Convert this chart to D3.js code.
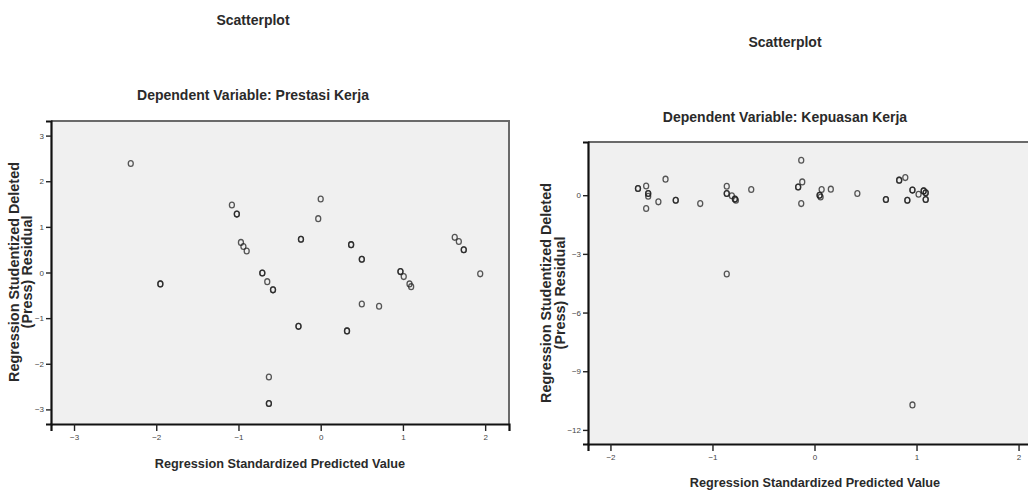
<!DOCTYPE html>
<html>
<head>
<meta charset="utf-8">
<script src="https://cdn.jsdelivr.net/npm/d3@7"></script>
<style>
  body { margin: 0; background: #fff; }
  svg { display: block; font-family: "Liberation Sans", Arial, sans-serif; }
  .tick text { fill: #444; font-size: 8px; }
  .title { font-weight: bold; font-size: 14px; fill: #2a2a2a; }
  .axlabel { font-weight: bold; font-size: 12.7px; fill: #2a2a2a; }
  .ylabel { font-weight: bold; font-size: 14.4px; fill: #2a2a2a; }
</style>
</head>
<body>
<svg id="chart" width="1028" height="490"></svg>
<script>
// chart 1: Prestasi Kerja  (predicted, residual) - doubled entries are overlapping cases
var prestasiX = [-2.31, -1.95, -1.95, -1.08, -1.02, -1.02, -0.97, -0.94, -0.90,
  0.00, -0.03, -0.24, -0.24, 0.37, 0.37, 0.50, 0.50, -0.71, -0.71, -0.65, -0.58, -0.58,
  1.63, 1.68, 1.74, 1.74, 1.94, 0.97, 0.97, 1.01, 1.08, 1.10, 0.50, 0.71,
  -0.27, -0.27, 0.32, 0.32, -0.63, -0.63, -0.63];
var prestasiY = [2.39, -0.25, -0.25, 1.48, 1.28, 1.28, 0.66, 0.57, 0.47,
  1.61, 1.18, 0.73, 0.73, 0.61, 0.61, 0.29, 0.29, -0.01, -0.01, -0.20, -0.38, -0.38,
  0.77, 0.68, 0.50, 0.50, -0.03, 0.02, 0.02, -0.09, -0.25, -0.31, -0.69, -0.74,
  -1.18, -1.18, -1.28, -1.28, -2.29, -2.87, -2.87];

// chart 2: Kepuasan Kerja
var kepuasanX = [-1.73, -1.73, -1.65, -1.63, -1.63, -1.63, -1.65, -1.53, -1.46, -1.36, -1.36,
  -1.12, -0.86, -0.86, -0.86, -0.81, -0.78, -0.78, -0.77, -0.62, -0.86,
  -0.13, -0.12, -0.16, -0.16, -0.13, 0.07, 0.05, 0.05, 0.06, 0.16, 0.42, 0.70, 0.70,
  0.83, 0.83, 0.89, 0.91, 0.91, 0.96, 0.96, 1.02, 1.07, 1.07, 1.09, 1.09, 1.09, 1.09, 0.96];
var kepuasanY = [0.34, 0.34, 0.47, 0.09, 0.09, -0.05, -0.68, -0.34, 0.82, -0.26, -0.26,
  -0.43, 0.46, 0.09, 0.09, -0.03, -0.20, -0.20, -0.26, 0.29, -4.03,
  1.79, 0.68, 0.42, 0.42, -0.43, 0.29, 0.00, 0.00, -0.09, 0.31, 0.09, -0.22, -0.22,
  0.77, 0.77, 0.90, -0.26, -0.26, 0.26, 0.26, 0.05, 0.22, 0.22, 0.12, 0.12, -0.22, -0.22, -10.72];

var xTicksPrestasi = [-3, -2, -1, 0, 1, 2];
var xTicksKepuasan = [-2, -1, 0, 1, 2];
var yTicksPrestasi = [3, 2, 1, 0, -1, -2, -3];
var yTicksKepuasan = [0, -3, -6, -9, -12];

var svg = d3.select("#chart");

function drawScatter(cfg) {
  var g = svg.append("g");
  var x = d3.scaleLinear().domain(cfg.xDomain).range([cfg.left, cfg.right]);
  var y = d3.scaleLinear().domain(cfg.yDomain).range([cfg.bottom, cfg.top]);

  // panel background
  g.append("rect")
    .attr("x", cfg.left).attr("y", cfg.top)
    .attr("width", cfg.right - cfg.left).attr("height", cfg.bottom - cfg.top)
    .attr("fill", "#f0f0f0");

  // top + right frame (grey)
  g.append("path")
    .attr("d", "M" + cfg.left + "," + cfg.top + "H" + cfg.right + "V" + cfg.bottom)
    .attr("fill", "none").attr("stroke", "#6a6a6a").attr("stroke-width", 2);

  // points
  g.append("g").selectAll("ellipse")
    .data(cfg.xs.map(function(d, i) { return [d, cfg.ys[i]]; }))
    .enter().append("ellipse")
    .attr("cx", function(d) { return x(d[0]); })
    .attr("cy", function(d) { return y(d[1]); })
    .attr("rx", 2.5).attr("ry", 2.9)
    .attr("fill", "none")
    .attr("stroke", "#222")
    .attr("stroke-opacity", 0.75)
    .attr("stroke-width", 1.3);

  // axes
  var xAxis = g.append("g")
    .attr("transform", "translate(0," + cfg.bottom + ")")
    .call(d3.axisBottom(x).tickValues(cfg.xTicks).tickSize(7).tickPadding(3).tickFormat(d3.format("d")));
  xAxis.select(".domain").attr("stroke", "#111").attr("stroke-width", 2.2);
  xAxis.selectAll(".tick line").attr("stroke", "#222").attr("stroke-width", 1.4);

  var yAxis = g.append("g")
    .attr("transform", "translate(" + cfg.left + ",0)")
    .call(d3.axisLeft(y).tickValues(cfg.yTicks).tickSize(5).tickPadding(2).tickFormat(d3.format("d")));
  yAxis.select(".domain").attr("stroke", "#111").attr("stroke-width", 2.2);
  yAxis.selectAll(".tick line").attr("stroke", "#222").attr("stroke-width", 1.4);

  // titles
  svg.append("text").attr("class", "title")
    .attr("x", cfg.titleX).attr("y", cfg.titleY)
    .attr("text-anchor", "middle").text("Scatterplot");
  svg.append("text").attr("class", "title")
    .attr("x", cfg.titleX).attr("y", cfg.subtitleY)
    .attr("text-anchor", "middle").text(cfg.subtitle);

  svg.append("text").attr("class", "axlabel")
    .attr("x", cfg.xLabelX).attr("y", cfg.xLabelY)
    .attr("text-anchor", "middle").text("Regression Standardized Predicted Value");

  var yl = svg.append("text").attr("class", "ylabel")
    .attr("text-anchor", "middle")
    .attr("transform", "translate(" + cfg.yLabelX + "," + cfg.yLabelY + ") rotate(-90)");
  yl.append("tspan").attr("x", 0).attr("dy", 0).text("Regression Studentized Deleted");
  yl.append("tspan").attr("x", 0).attr("dy", 13.5).text("(Press) Residual");
}

drawScatter({
  xs: prestasiX, ys: prestasiY,
  xDomain: [-3.28, 2.29], yDomain: [-3.32, 3.32],
  left: 51, right: 509, top: 121, bottom: 424,
  xTicks: xTicksPrestasi, yTicks: yTicksPrestasi,
  titleX: 253, titleY: 25, subtitleY: 100, subtitle: "Dependent Variable: Prestasi Kerja",
  xLabelX: 280, xLabelY: 468, yLabelX: 18.5, yLabelY: 272
});

drawScatter({
  xs: kepuasanX, ys: kepuasanY,
  xDomain: [-2.22, 2.22], yDomain: [-12.72, 2.72],
  left: 588, right: 1041, top: 142, bottom: 444,
  xTicks: xTicksKepuasan, yTicks: yTicksKepuasan,
  titleX: 785, titleY: 47, subtitleY: 122, subtitle: "Dependent Variable: Kepuasan Kerja",
  xLabelX: 815, xLabelY: 487, yLabelX: 551, yLabelY: 293
});
</script>
</body>
</html>
